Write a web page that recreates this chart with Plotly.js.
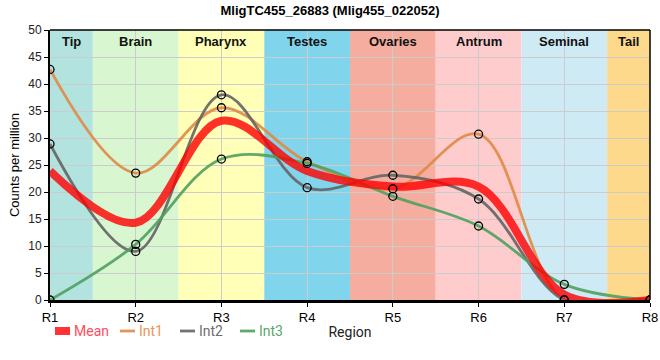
<!DOCTYPE html>
<html>
<head>
<meta charset="utf-8">
<script src="https://cdn.plot.ly/plotly-3.0.1.min.js"></script>
<style>html,body{margin:0;padding:0;background:#fff;}#chart{width:660px;height:360px;}</style>
</head>
<body>
<div id="chart"></div>
<script>
const regions = ['R1','R2','R3','R4','R5','R6','R7','R8'];
const int1 = [42.7, 23.5, 35.6, 25.6, 20.6, 30.7, 0.0, 0.0];
const int2 = [28.9, 9.0, 38.0, 20.8, 23.1, 18.7, 0.0, 0.0];
const int3 = [0.0, 10.3, 26.1, 25.3, 19.2, 13.7, 2.9, 0.0];
const meanVals = [23.9, 14.3, 33.2, 23.9, 21.0, 21.0, 1.0, 0.0];
const bandNames = ['Tip','Brain','Pharynx','Testes','Ovaries','Antrum','Seminal','Tail'];
const bandStart = [0, 0.5, 1.5, 2.5, 3.5, 4.5, 5.5, 6.5];
const bandEnd = [0.5, 1.5, 2.5, 3.5, 4.5, 5.5, 6.5, 7];
const bandColors = ['#b3e3df','#d8f6d0','#ffffb8','#80d4eb','#f4ad9e','#fecccc','#ceebf5','#fdd98b'];
const seriesNames = ['Mean','Int1','Int2','Int3'];
const seriesColors = ['rgba(255,0,0,0.8)','rgba(224,138,70,0.9)','rgba(100,100,100,0.9)','rgba(80,160,95,0.9)'];
const legendTextColors = ['#ff4d5e','#e8965a','#6e6e6e','#5aa56a'];

const xs = regions.map((r,i)=>i);

function lineTrace(y, color, width){
  return {
    x: xs, y: y, type:'scatter', mode:'lines', showlegend:false,
    line:{color:color, width:width, shape:'spline', smoothing:1.0},
    hoverinfo:'skip'
  };
}
function markerTrace(y){
  return {
    x: xs, y: y, type:'scatter', mode:'markers', showlegend:false,
    marker:{symbol:'circle-open', size:8, color:'#000', line:{width:1.3, color:'#000'}},
    hoverinfo:'skip'
  };
}

const traces = [
  lineTrace(int1, seriesColors[1], 2.8),
  lineTrace(int2, seriesColors[2], 2.8),
  lineTrace(int3, seriesColors[3], 2.8),
  lineTrace(meanVals, seriesColors[0], 8),
  markerTrace(int1), markerTrace(int2), markerTrace(int3)
];

const shapes = bandNames.map((n,i)=>({
  type:'rect', xref:'x', yref:'paper', x0:bandStart[i], x1:bandEnd[i], y0:0, y1:1,
  fillcolor:bandColors[i], line:{width:0}, layer:'below'
}));
const annotations = bandNames.map((n,i)=>({
  x:(bandStart[i]+bandEnd[i])/2, xref:'x', y:1, yref:'paper', yanchor:'top', yshift:-2,
  text:'<b>'+n+'</b>', showarrow:false,
  font:{family:'Liberation Sans, Arial, sans-serif', size:13, color:'#111'}
}));

// manual legend (pixel positions converted to paper coords)
const plotL = 50, plotW = 600, plotB = 300, plotH = 270;
const px = v => (v - plotL) / plotW;
const py = v => (plotB - v) / plotH;
const legendX = [55, 120, 180, 240];
const legendY = 331;
seriesNames.forEach((n,i)=>{
  shapes.push({
    type:'line', xref:'paper', yref:'paper',
    x0:px(legendX[i]), x1:px(legendX[i]+15), y0:py(legendY), y1:py(legendY),
    line:{color:seriesColors[i], width: i===0 ? 8 : 2.8}
  });
  annotations.push({
    xref:'paper', yref:'paper', x:px(legendX[i]+18), y:py(legendY), xanchor:'left', yanchor:'middle',
    text:'<span style="color:'+legendTextColors[i]+'">'+n+'</span>', showarrow:false,
    font:{family:'Roboto, sans-serif', size:14}, borderpad:0
  });
});

const layout = {
  width:660, height:360,
  margin:{l:50, r:10, t:30, b:60},
  paper_bgcolor:'#fff', plot_bgcolor:'#fff',
  title:{text:'<b>MligTC455_26883 (Mlig455_022052)</b>', x:0.5, xanchor:'center', y:0.985, yanchor:'top',
    font:{family:'Liberation Sans, Arial, sans-serif', size:13, color:'#000'}},
  xaxis:{
    range:[0,7], tickvals:xs, ticktext:regions, showgrid:true, gridcolor:'#cccccc', gridwidth:1,
    zeroline:false, showline:true, linecolor:'#000', linewidth:2.5, mirror:false,
    ticks:'outside', ticklen:4, tickcolor:'#000',
    tickfont:{family:'Liberation Sans, Arial, sans-serif', size:13, color:'#000'},
    title:{text:'Region', standoff:3, font:{family:'Roboto, sans-serif', size:14, color:'#222'}}
  },
  yaxis:{
    range:[0,50], tickvals:[0,5,10,15,20,25,30,35,40,45,50], showgrid:true, gridcolor:'#cccccc', gridwidth:1,
    zeroline:false, showline:true, linecolor:'#000', linewidth:2, mirror:false,
    ticks:'outside', ticklen:4, tickcolor:'#000',
    tickfont:{family:'Liberation Sans, Arial, sans-serif', size:12, color:'#222'},
    title:{text:'Counts per million', standoff:6, font:{family:'Liberation Sans, Arial, sans-serif', size:13, color:'#000'}}
  },
  shapes: shapes.concat([
    {type:'line', xref:'paper', yref:'paper', x0:0, x1:1, y0:1, y1:1, line:{color:'#000', width:1.5}},
    {type:'line', xref:'paper', yref:'paper', x0:1, x1:1, y0:0, y1:1, line:{color:'#000', width:1.5}}
  ]),
  annotations: annotations,
  showlegend:false
};

Plotly.newPlot('chart', traces, layout, {displayModeBar:false, staticPlot:true});
</script>
</body>
</html>
